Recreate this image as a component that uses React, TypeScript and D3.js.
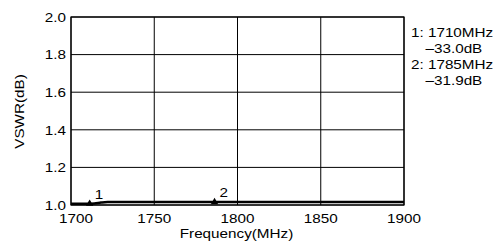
import React from 'react';
import * as d3 from 'd3';

const freqTicks = [1700, 1750, 1800, 1850, 1900];
const vswrTicks = [1.0, 1.2, 1.4, 1.6, 1.8, 2.0];

const traceFreq = [1700, 1705, 1710, 1714, 1718, 1722, 1730, 1750, 1785, 1800, 1850, 1900];
const traceVswr = [1.007, 1.007, 1.007, 1.008, 1.013, 1.016, 1.016, 1.016, 1.016, 1.016, 1.016, 1.016];

const markerFreq = [1710, 1785];
const markerLabels = ['1', '2'];

const legendLines = ['1: 1710MHz', '\u201333.0dB', '2: 1785MHz', '\u201331.9dB'];

const margin = { top: 17, left: 71, right: 97, bottom: 37 };
const W = 501;
const H = 242;
const FS = 13.5;
const SX = 1.13;

function T({ x, y, anchor = 'start', children }: { x: number; y: number; anchor?: string; children: React.ReactNode }) {
  return (
    <text transform={`translate(${x},${y}) scale(${SX},1)`} textAnchor={anchor} fontSize={FS}>
      {children}
    </text>
  );
}

export default function App() {
  const innerW = W - margin.left - margin.right;
  const innerH = H - margin.top - margin.bottom;
  const x = d3.scaleLinear().domain([1700, 1900]).range([margin.left, margin.left + innerW]);
  const y = d3.scaleLinear().domain([1.0, 2.0]).range([margin.top + innerH, margin.top]);

  const line = d3.line<number>()
    .x((_, i) => x(traceFreq[i]))
    .y(d => y(d))
    .curve(d3.curveMonotoneX);

  const font = 'Liberation Sans, Arial, sans-serif';
  const tri = d3.symbol().type(d3.symbolTriangle).size(24);
  const trace = d3.scaleLinear().domain(traceFreq).range(traceVswr);

  return (
    <svg width={W} height={H} style={{ position: 'absolute', left: 0, top: 0 }} fontFamily={font}>
      <rect width={W} height={H} fill="#fff" />
      {freqTicks.map(f => (
        <line key={'gx' + f} x1={x(f)} x2={x(f)} y1={y(1)} y2={y(2)} stroke="#000" strokeWidth={1} />
      ))}
      {vswrTicks.map(v => (
        <line key={'gy' + v} x1={x(1700)} x2={x(1900)} y1={y(v)} y2={y(v)} stroke="#000" strokeWidth={1} />
      ))}
      <rect x={x(1700)} y={y(2)} width={innerW} height={innerH} fill="none" stroke="#000" strokeWidth={1.2} />
      <path d={line(traceVswr) ?? ''} fill="none" stroke="#000" strokeWidth={2.5} />
      {markerFreq.map((f, i) => {
        const yy = y(trace(f));
        return (
          <g key={'m' + i}>
            <path d={tri() ?? ''} transform={`translate(${x(f) + 2},${yy})`} fill="#000" />
            <T x={x(f) + 7} y={yy - 5}>{markerLabels[i]}</T>
          </g>
        );
      })}
      {vswrTicks.map(v => (
        <T key={'ty' + v} x={x(1700) - 5} y={y(v) + 4.8} anchor="end">
          {v.toFixed(1)}
        </T>
      ))}
      {freqTicks.map((f, i) => (
        <T key={'tx' + f} x={x(f) + (i === 0 ? 5 : 0)} y={y(1) + 18} anchor="middle">
          {f}
        </T>
      ))}
      <T x={236.5} y={237.5} anchor="middle">Frequency(MHz)</T>
      <text transform={`translate(24,111.5) rotate(-90) scale(${SX},1)`} textAnchor="middle" fontSize={FS}>VSWR(dB)</text>
      {legendLines.map((t, i) => (
        <T key={'l' + i} x={i % 2 === 0 ? 411 : 425.5} y={37 + i * 16}>{t}</T>
      ))}
    </svg>
  );
}
